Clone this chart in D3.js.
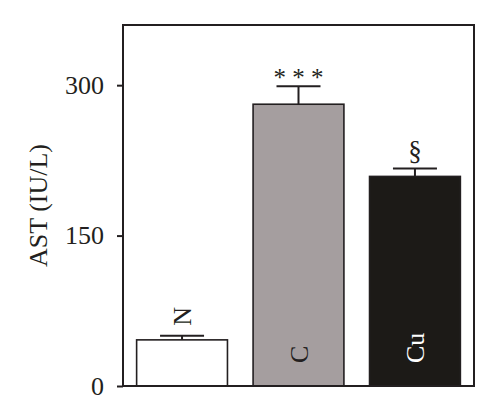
<!DOCTYPE html>
<html>
<head>
<meta charset="utf-8">
<script src="https://cdn.jsdelivr.net/npm/d3@7"></script>
<style>
  body { margin: 0; background: #fff; }
  text { font-family: "Liberation Serif", "DejaVu Serif", serif; }
</style>
</head>
<body>
<div id="chart"></div>
<script>
// values
const categories = ["N", "C", "Cu"];
const means = [46, 281, 209];
const errors = [4, 18, 8];
const marks = ["", "* * *", "§"];
const yTicks = [0, 150, 300];

const fills = ["#ffffff", "#a59e9f", "#1c1a17"];
const labelColors = ["#231f20", "#231f20", "#ffffff"];
const ink = "#231f20";

const width = 500, height = 417;
const margin = { top: 25, right: 26, bottom: 31, left: 123 };

const svg = d3.select("#chart").append("svg")
    .attr("width", width).attr("height", height);

const x = d3.scaleBand()
    .domain(categories)
    .range([margin.left, width - margin.right])
    .paddingInner(0.22)
    .paddingOuter(0.117);

const y = d3.scaleLinear()
    .domain([0, 360])
    .range([height - margin.bottom, margin.top]);

const data = categories.map((c, i) => ({ c, m: means[i], e: errors[i], mark: marks[i], i }));

// bars
svg.append("g").selectAll("rect")
    .data(data)
    .join("rect")
    .attr("x", d => x(d.c))
    .attr("y", d => y(d.m))
    .attr("width", x.bandwidth())
    .attr("height", d => y(0) - y(d.m))
    .attr("fill", d => fills[d.i])
    .attr("stroke", ink)
    .attr("stroke-width", 1.6);

// error bars (upper only)
const eb = svg.append("g").attr("stroke", ink).attr("stroke-width", 2);
data.forEach(d => {
    const cx = x(d.c) + x.bandwidth() / 2;
    eb.append("line").attr("x1", cx).attr("x2", cx).attr("y1", y(d.m)).attr("y2", y(d.m + d.e));
    eb.append("line").attr("x1", cx - 22).attr("x2", cx + 22).attr("y1", y(d.m + d.e)).attr("y2", y(d.m + d.e));
});

// significance marks
svg.append("g").selectAll("text")
    .data(data.filter(d => d.mark))
    .join("text")
    .attr("x", d => x(d.c) + x.bandwidth() / 2)
    .attr("y", d => y(d.m + d.e) - (d.mark === "§" ? 8 : 0))
    .attr("text-anchor", "middle")
    .attr("fill", ink)
    .style("font-size", d => d.mark === "§" ? "27px" : "25px")
    .text(d => d.mark);

// rotated category labels: above short bars, inside tall ones
svg.append("g").selectAll("text")
    .data(data)
    .join("text")
    .attr("transform", d => {
        const cx = x(d.c) + x.bandwidth() / 2;
        const inside = y(0) - y(d.m) > 60;
        const ty = inside ? y(0) - 23 : y(d.m + d.e) - 10;
        return "translate(" + cx + "," + ty + ") rotate(-90)";
    })
    .attr("dy", "0.35em")
    .attr("text-anchor", "start")
    .attr("fill", d => y(0) - y(d.m) > 60 ? labelColors[d.i] : ink)
    .style("font-size", "26px")
    .text(d => d.c);

// frame
svg.append("rect")
    .attr("x", margin.left).attr("y", margin.top)
    .attr("width", width - margin.left - margin.right)
    .attr("height", height - margin.top - margin.bottom)
    .attr("fill", "none")
    .attr("stroke", ink)
    .attr("stroke-width", 2);

// y axis
const yAxis = svg.append("g")
    .attr("transform", "translate(" + margin.left + ",0)")
    .call(d3.axisLeft(y).tickValues(yTicks).tickSize(6).tickPadding(13));
yAxis.select(".domain").remove();
yAxis.selectAll("line").attr("stroke", ink).attr("stroke-width", 2);
yAxis.selectAll("text")
    .attr("fill", ink)
    .style("font-size", "26px")
    .style("font-family", "'Liberation Serif', serif");

// y label
svg.append("text")
    .attr("transform", "translate(38," + ((margin.top + height - margin.bottom) / 2) + ") rotate(-90)")
    .attr("dy", "0.35em")
    .attr("text-anchor", "middle")
    .attr("fill", ink)
    .style("font-size", "26px")
    .text("AST (IU/L)");
</script>
</body>
</html>
